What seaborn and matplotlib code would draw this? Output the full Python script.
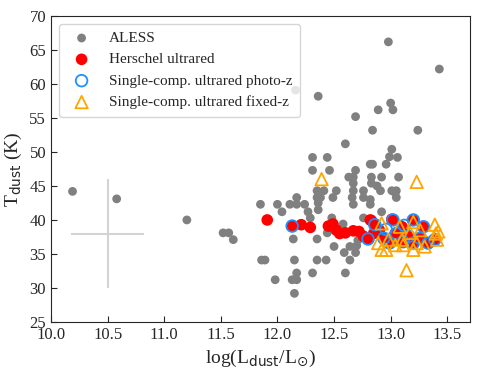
import numpy as np
import pandas as pd
import matplotlib
matplotlib.use("Agg")
import matplotlib.pyplot as plt
import seaborn as sns

# ALESS sample (grey)
aless_logl = [10.19, 10.58, 11.20, 11.52, 11.57, 11.61,
              11.85, 11.86, 11.89, 11.98, 12.00, 12.04,
              12.11, 12.13, 12.14, 12.15, 12.15, 12.17, 12.17, 12.17, 12.17,
              12.24, 12.27, 12.29, 12.31, 12.31, 12.31, 12.35, 12.35, 12.35, 12.35,
              12.36, 12.36, 12.36, 12.38, 12.41, 12.43, 12.44, 12.44, 12.46, 12.48,
              12.49, 12.50, 12.52, 12.58, 12.59, 12.60, 12.60, 12.63, 12.64, 12.64,
              12.66, 12.67, 12.67, 12.67, 12.67, 12.69, 12.69, 12.69, 12.70, 12.71,
              12.76, 12.76, 12.76, 12.82, 12.82, 12.82, 12.83, 12.83, 12.84, 12.84,
              12.89, 12.91, 12.92, 12.92, 12.96, 12.98, 12.99, 13.00, 13.01, 13.01,
              13.02, 13.05, 13.05, 13.06, 13.07, 13.24, 13.43, 12.16, 12.88, 13.04]
aless_tdust = [44.2, 43.1, 40.0, 38.1, 38.1, 37.1,
               42.3, 34.1, 34.1, 31.2, 42.3, 41.2,
               42.3, 31.2, 37.2, 34.1, 29.2, 42.3, 43.3, 32.2, 31.2,
               42.3, 41.2, 40.3, 49.2, 47.3, 32.2, 44.3, 43.3, 37.2, 34.1,
               58.2, 42.5, 41.5, 43.3, 44.3, 34.1, 49.2, 38.1, 47.3, 40.3,
               43.3, 36.1, 44.3, 39.4, 35.2, 51.2, 32.2, 46.3, 34.1, 36.1,
               43.3, 46.3, 45.4, 44.3, 42.3, 55.2, 47.3, 35.2, 36.2, 37.0,
               44.3, 43.3, 40.3, 48.2, 43.0, 42.3, 46.3, 45.4, 53.2, 48.2,
               56.2, 44.3, 46.3, 41.2, 48.2, 66.2, 49.3, 57.2, 50.4, 44.3,
               56.2, 44.3, 43.3, 49.2, 46.3, 53.2, 62.2, 59.1, 45.0, 44.0]

# Herschel ultrared (red)
red_logl = [11.91, 12.13, 12.21, 12.29, 12.45, 12.49, 12.52, 12.55, 12.60, 12.67,
            12.72, 12.76, 12.80, 12.83, 12.82, 12.85, 12.86, 12.90, 12.94, 12.99,
            13.01, 13.02, 13.04, 13.05, 13.10, 13.11, 13.16, 13.20, 13.20, 13.26,
            13.29, 13.33, 13.39]
red_tdust = [40.0, 39.1, 39.3, 38.9, 39.1, 39.4, 38.5, 38.0, 38.1, 38.4,
             38.3, 37.6, 37.2, 39.9, 40.0, 38.0, 39.3, 38.5, 37.3, 36.6,
             40.1, 40.0, 38.0, 38.0, 39.0, 36.8, 37.6, 40.0, 36.6, 37.3,
             39.0, 36.6, 37.1]

# single-component ultrared, photo-z (blue open circles)
photz_logl = [12.13, 12.80, 12.86, 12.94, 12.96, 12.99, 13.02, 13.05, 13.11, 13.12,
              13.16, 13.20, 13.20, 13.26, 13.29, 13.33, 13.39]
photz_tdust = [39.1, 37.2, 39.3, 37.3, 38.6, 36.6, 40.0, 38.0, 36.8, 39.2,
               37.6, 40.0, 36.6, 37.3, 39.0, 36.6, 37.1]

# single-component ultrared, fixed-z (orange open triangles)
fixz_logl = [12.39, 13.23, 12.92, 13.20, 13.39, 13.08, 12.98, 13.17, 13.26, 13.42,
             12.89, 12.92, 12.96, 13.11, 13.20, 13.30, 13.41, 13.14, 13.10, 13.23,
             13.04, 13.40]
fixz_tdust = [46.0, 45.6, 39.5, 39.7, 39.3, 39.0, 37.1, 38.1, 38.5, 38.3,
              36.6, 35.6, 35.6, 36.3, 35.6, 36.1, 37.1, 32.6, 37.1, 36.6,
              36.3, 38.0]

# typical uncertainty cross
err_x, err_y = 10.5, 38
err_xerr, err_yerr = 0.32, 8

sns.set_style("ticks")
plt.rcParams["font.family"] = ["Liberation Serif", "DejaVu Serif"]
plt.rcParams["mathtext.fontset"] = "dejavusans"

fig, ax = plt.subplots(figsize=(4.79, 3.73), dpi=100)
fig.subplots_adjust(left=0.1065, right=0.981, bottom=0.137, top=0.957)

ax.errorbar(err_x, err_y, xerr=err_xerr, yerr=err_yerr, color="#d3d3d3",
            lw=1.5, capsize=0, zorder=1)

sns.scatterplot(x=aless_logl, y=aless_tdust, color="grey", s=40,
                edgecolor="none", label="ALESS", ax=ax, zorder=2)
sns.scatterplot(x=red_logl, y=red_tdust, color="red", s=70,
                edgecolor="none", label="Herschel ultrared", ax=ax, zorder=3)
sns.scatterplot(x=photz_logl, y=photz_tdust, marker="o", s=70,
                facecolor="none", edgecolor="#1e90ff", linewidth=1.3,
                label="Single-comp. ultrared photo-z", ax=ax, zorder=4)
sns.scatterplot(x=fixz_logl, y=fixz_tdust, marker="^", s=80,
                facecolor="none", edgecolor="orange", linewidth=1.3,
                label="Single-comp. ultrared fixed-z", ax=ax, zorder=5)

ax.set_xlim(10, 13.7)
ax.set_ylim(25, 70)
ax.set_xticks(np.arange(10, 13.6, 0.5))
ax.set_yticks(np.arange(25, 71, 5))
ax.tick_params(direction="in", labelsize=12, length=4)
ax.set_xlabel(r"log(L$_{\rm dust}$/L$_{\odot}$)", fontsize=14)
ax.set_ylabel(r"T$_{\rm dust}$ (K)", fontsize=14)

leg = ax.legend(loc="upper left", fontsize=11, frameon=True, framealpha=0.8,
                edgecolor="#cccccc", borderpad=0.5, handletextpad=0.8)
leg.set_zorder(10)

fig.savefig("out.png", dpi=100)
